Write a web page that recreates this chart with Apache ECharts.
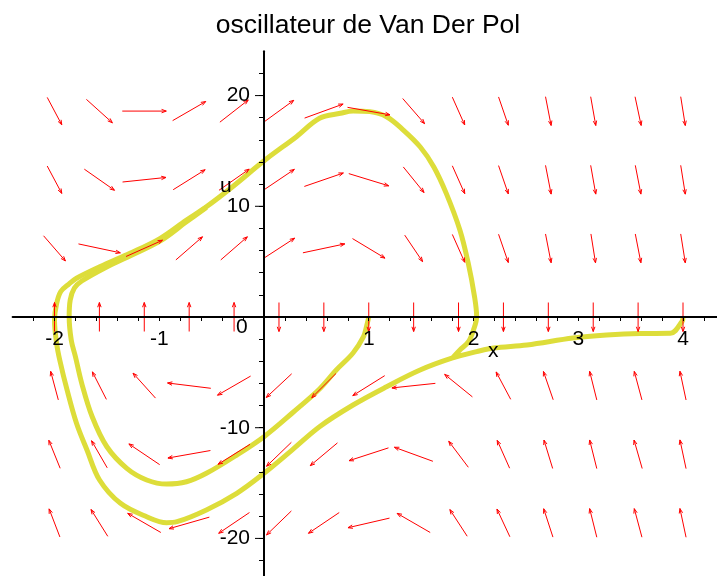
<!DOCTYPE html>
<html><head><meta charset="utf-8">
<script src="https://cdn.jsdelivr.net/npm/echarts@6/dist/echarts.min.js"></script>
<style>html,body{margin:0;padding:0;background:#fff}#c{width:717px;height:576px}</style>
</head><body><div id="c"></div>
<script>
// ---- data ----
const fieldX = [-2, -1.5714, -1.1429, -0.7143, -0.2857, 0.1429, 0.5714, 1.0, 1.4286, 1.8571, 2.2857, 2.7143, 3.1429, 3.5714, 4.0];
const fieldU = [18.6, 12.4, 6.2, 0, -6.2, -12.4, -18.6];
// screen direction of each arrow in degrees (counter-clockwise from +x), one row per fieldU
const fieldAngles = [
  [-62, -42, 0, 30, 38, 36, 20, -10, -49, -66, -71, -79, -80, -78, -81],
  [-62, -35, 6, 32, 35, 34, 19, -17, -51, -66, -71, -79, -80, -79, -81],
  [-49, -12, 24, 41, 41, 33, 12, -31, -56, -66, -71, -79, -81, -79, -81],
  [90, 90, 90, 90, 90, -90, -90, -90, -90, -90, -90, -90, -90, -90, -90],
  [105, 117, 132, 173, 210, 223, 225, 212, 186, 141, 118, 109, 104, 105, 102],
  [112, 120, 146, 190, 212, 224, 220, 198, 160, 127, 114, 107, 104, 106, 102],
  [111, 122, 150, 196, 214, 224, 214, 193, 150, 123, 115, 108, 104, 105, 102]
];
const trajAx = [4.00, 3.99, 3.88, 3.59, 3.27, 2.95, 2.51, 2.19, 2.03, 1.80, 1.49, 1.17, 0.85, 0.53, 0.27, 0.00, -0.26, -0.55, -0.83, -0.93, -1.12, -1.37, -1.57, -1.69, -1.79, -1.88, -1.95, -1.98, -2.00, -1.98, -1.94, -1.86, -1.79, -1.53, -1.28, -0.99, -0.74, -0.55, -0.30, 0.01, 0.31, 0.53, 0.73, 0.85, 1.01, 1.17, 1.33, 1.49, 1.62, 1.74, 1.87, 1.95, 2.01, 2.03, 2.00, 1.95, 1.87, 1.80];
const trajAu = [0.00, -0.42, -1.47, -1.49, -1.63, -1.90, -2.53, -2.80, -3.13, -3.70, -4.79, -6.30, -7.95, -9.91, -12.0, -14.12, -15.93, -17.43, -18.49, -18.58, -18.04, -16.83, -14.72, -12.01, -9.60, -6.59, -3.88, -2.38, -0.3, 1.2, 2.3, 3.0, 3.50, 4.70, 5.75, 7.11, 8.76, 9.96, 11.77, 14.18, 16.29, 17.95, 18.40, 18.61, 18.55, 18.09, 16.89, 15.38, 13.58, 11.17, 7.86, 4.85, 1.83, 0.03, -1.17, -2.26, -2.98, -3.70];
const trajBx = [1.00, 0.98, 0.95, 0.85, 0.69, 0.53, 0.27, 0.00, -0.26, -0.55, -0.74, -0.93, -1.12, -1.31, -1.50, -1.64, -1.74, -1.80, -1.84, -1.86, -1.85, -1.81, -1.74, -1.52, -1.28, -0.99, -0.74, -0.55];
const trajBu = [0.00, -0.81, -1.78, -3.25, -4.79, -6.5, -8.67, -10.81, -12.47, -14.12, -14.88, -15.09, -14.72, -13.67, -11.72, -9.01, -5.99, -3.59, -2.08, 0, 1.54, 2.62, 3.25, 4.43, 5.51, 6.87, 8.6, 9.9];
const xTickLabels = [-2, -1, 1, 2, 3, 4];
const uTickLabels = [-20, -10, 10, 20];
const titleText = 'oscillateur de Van Der Pol';

// ---- build chart ----
const fieldData = [];
fieldU.forEach((u, r) => fieldX.forEach((x, c) => fieldData.push([x, u, fieldAngles[r][c]])));
const zip = (a, b) => a.map((v, i) => [v, b[i]]);
const FONT = 'Liberation Sans';
const YEL = 'rgb(221,221,58)';
const isIn = (arr, v) => arr.some(t => Math.abs(t - v) < 1e-6);

// layout (pixels)
const G = { left: 12.6, top: 51.3, width: 712.3, height: 531.4 };
const X0 = 264, Y0 = 317; // where the axes cross

function renderArrow(params, api) {
  const p = api.coord([api.value(0), api.value(1)]);
  const a = api.value(2) * Math.PI / 180;
  const c = Math.cos(a), s = Math.sin(a);
  const L = 1 / Math.sqrt((c / 44) ** 2 + (s / 29) ** 2);
  const hx = c * L / 2, hy = -s * L / 2;
  const t = [p[0] - hx, p[1] - hy], h = [p[0] + hx, p[1] + hy];
  const back = Math.atan2(-hy, -hx);
  const b1 = [h[0] + 5 * Math.cos(back + 0.35), h[1] + 5 * Math.sin(back + 0.35)];
  const b2 = [h[0] + 5 * Math.cos(back - 0.35), h[1] + 5 * Math.sin(back - 0.35)];
  return {
    type: 'group', children: [
      { type: 'line', shape: { x1: t[0], y1: t[1], x2: h[0], y2: h[1] }, style: { stroke: '#ff0000', lineWidth: 1 } },
      { type: 'polyline', shape: { points: [b1, h, b2] }, style: { stroke: '#ff0000', fill: null, lineWidth: 1 } }
    ]
  };
}
function renderMajorTick(params, api) {
  const p = api.coord([0, api.value(0)]);
  return { type: 'line', shape: { x1: p[0] - 9, y1: p[1], x2: p[0], y2: p[1] }, style: { stroke: '#000', lineWidth: 1 } };
}

const chart = echarts.init(document.getElementById('c'), null, { renderer: 'canvas' });
chart.setOption({
  animation: false,
  backgroundColor: '#fff',
  title: {
    text: titleText, left: 363, top: 7, textAlign: 'center',
    textStyle: { fontFamily: FONT, fontSize: 26.5, fontWeight: 'normal', color: '#000' }
  },
  grid: { left: G.left, top: G.top, width: G.width, height: G.height, containLabel: false, outerBoundsMode: 'none' },
  xAxis: {
    type: 'value', min: -2.4, max: 4.4, interval: 0.2, z: 10,
    position: 'bottom', offset: -(G.top + G.height - Y0),
    axisLine: { onZero: false, lineStyle: { color: '#000', width: 2 } },
    axisTick: { show: true, length: 4, lineStyle: { color: '#000' } },
    splitLine: { show: false },
    axisLabel: {
      margin: 12, fontFamily: FONT, fontSize: 21, color: '#000',
      showMinLabel: false, showMaxLabel: false, hideOverlap: false,
      formatter: v => isIn(xTickLabels, v) ? String(Math.round(v)) : ''
    }
  },
  yAxis: {
    type: 'value', min: -24, max: 24, interval: 2, z: 10,
    position: 'left', offset: -(X0 - G.left),
    axisLine: { onZero: false, lineStyle: { color: '#000', width: 2 } },
    axisTick: { show: true, length: 5, lineStyle: { color: '#000' } },
    splitLine: { show: false },
    axisLabel: {
      margin: 14, fontFamily: FONT, fontSize: 21, color: '#000',
      showMinLabel: false, showMaxLabel: false, hideOverlap: false,
      formatter: v => isIn(uTickLabels, v) ? String(Math.round(v)) : ''
    }
  },
  graphic: [
    { type: 'text', z: 100, left: 236, top: 317, style: { text: '0', font: '21px "Liberation Sans"', fill: '#000' } },
    { type: 'text', z: 100, left: 488, top: 341, style: { text: 'x', font: '21px "Liberation Sans"', fill: '#000' } },
    { type: 'text', z: 100, left: 220, top: 176, style: { text: 'u', font: '21px "Liberation Sans"', fill: '#000' } }
  ],
  series: [
    { type: 'line', data: zip(trajBx, trajBu), showSymbol: false, smooth: 0.35, lineStyle: { color: YEL, width: 5 }, z: 2, silent: true },
    { type: 'line', data: zip(trajAx, trajAu), showSymbol: false, smooth: 0.35, lineStyle: { color: YEL, width: 5 }, z: 2, silent: true },
    { type: 'custom', renderItem: renderArrow, data: fieldData, encode: { x: 0, y: 1 }, z: 3, clip: false, silent: true },
    { type: 'custom', renderItem: renderMajorTick, data: uTickLabels.map(v => [v]), encode: { y: 0 }, z: 11, clip: false, silent: true }
  ]
});
</script></body></html>
